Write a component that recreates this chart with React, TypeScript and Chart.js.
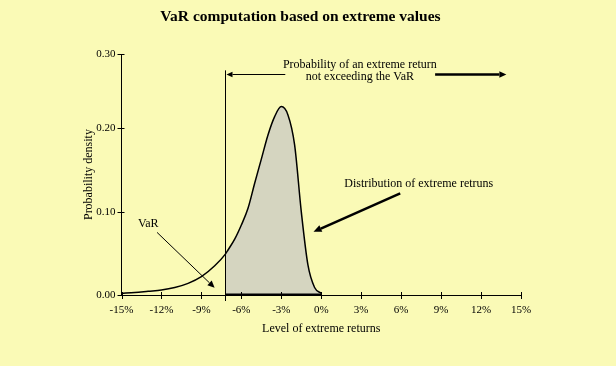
import React, { useEffect, useRef } from "react";
import { Chart, registerables } from "chart.js";
Chart.register(...registerables);

// ---- Data ----
const returnsPct = [-15, -14, -13, -12, -11, -10, -9, -8, -7.2, -7, -6.5, -6, -5.5, -5, -4.5, -4, -3.5, -3, -2.5, -2, -1.5, -1, -0.5, 0];
const density = [0.002, 0.003, 0.0045, 0.006, 0.009, 0.014, 0.022, 0.035, 0.049, 0.054, 0.067, 0.084, 0.104, 0.134, 0.163, 0.192, 0.214, 0.226, 0.216, 0.18, 0.1, 0.036, 0.009, 0.002];
const varLevel = -7.2;
const xTickValues = [-15, -12, -9, -6, -3, 0, 3, 6, 9, 12, 15];
const yTickValues = [0, 0.1, 0.2, 0.289];
const yTickLabels = ["0.00", "0.10", "0.20", "0.30"];

const chartTitle = "VaR computation based on extreme values";
const xTitle = "Level of extreme returns";
const yTitle = "Probability density";
const probLabel = ["Probability of an extreme return", "not exceeding the VaR"];
const varLabel = "VaR";
const distLabel = "Distribution of extreme retruns";

// ---- Annotation placement (data units) ----
const annot = {
  varLineTop: 0.2695,
  probArrowY: 0.2655,
  probLeftEnd: -2.7,
  probRightStart: 8.55,
  probRightEnd: 13.9,
  probTextX: 2.9,
  probTextY: [0.2766, 0.2623],
  varTextX: -12.99,
  varTextY: 0.085,
  varArrow: [-12.33, 0.0751, -8.01, 0.0087],
  distTextX: 7.32,
  distTextY: 0.133,
  distArrow: [5.93, 0.1218, -0.58, 0.0758],
};

const BG = "#FAFAB6";
const FILL = "#D5D5C0";
const FONT = '"Liberation Serif", "Times New Roman", serif';

function drawArrow(ctx: CanvasRenderingContext2D, x1: number, y1: number, x2: number, y2: number, width: number, head: number) {
  const ang = Math.atan2(y2 - y1, x2 - x1);
  const bx = x2 - head * Math.cos(ang);
  const by = y2 - head * Math.sin(ang);
  ctx.lineWidth = width;
  ctx.beginPath();
  ctx.moveTo(x1, y1);
  ctx.lineTo(bx, by);
  ctx.stroke();
  const hw = head * 0.45;
  ctx.beginPath();
  ctx.moveTo(x2, y2);
  ctx.lineTo(bx + hw * Math.sin(ang), by - hw * Math.cos(ang));
  ctx.lineTo(bx - hw * Math.sin(ang), by + hw * Math.cos(ang));
  ctx.closePath();
  ctx.fill();
}

const annotationPlugin = {
  id: "varAnnotations",
  afterDatasetsDraw(chart: any) {
    const { ctx, scales } = chart;
    const xs = scales.x;
    const ys = scales.y;
    const X = (v: number) => xs.getPixelForValue(v);
    const Y = (v: number) => ys.getPixelForValue(v);
    ctx.save();
    ctx.strokeStyle = "#000";
    ctx.fillStyle = "#000";
    ctx.lineWidth = 1;
    // crossing tick marks
    const bottom = Y(0);
    const left = X(-15);
    ctx.beginPath();
    xTickValues.forEach((v) => {
      const px = Math.round(X(v)) + 0.5;
      ctx.moveTo(px, bottom - 3);
      ctx.lineTo(px, bottom + 4);
    });
    yTickValues.forEach((v) => {
      const py = Math.round(Y(v)) + 0.5;
      ctx.moveTo(left - 4, py);
      ctx.lineTo(left + 3, py);
    });
    ctx.stroke();

    // thick base under shaded area
    ctx.lineWidth = 2;
    ctx.beginPath();
    ctx.moveTo(X(varLevel), bottom - 0.5);
    ctx.lineTo(X(0), bottom - 0.5);
    ctx.stroke();

    // VaR vertical line
    ctx.lineWidth = 1;
    const vx = Math.round(X(varLevel)) + 0.5;
    ctx.beginPath();
    ctx.moveTo(vx, Y(annot.varLineTop));
    ctx.lineTo(vx, bottom + 6);
    ctx.stroke();

    // probability arrows
    const py = Math.round(Y(annot.probArrowY)) + 0.5;
    drawArrow(ctx, X(annot.probLeftEnd), py, vx + 1, py, 1, 6);
    drawArrow(ctx, X(annot.probRightStart), py, X(annot.probRightEnd), py, 2.5, 7);

    // VaR arrow
    const va = annot.varArrow;
    drawArrow(ctx, X(va[0]), Y(va[1]), X(va[2]), Y(va[3]), 1, 7);
    // distribution arrow
    const da = annot.distArrow;
    drawArrow(ctx, X(da[0]), Y(da[1]), X(da[2]), Y(da[3]), 2.5, 8);

    // texts
    ctx.font = `12px ${FONT}`;
    ctx.textAlign = "center";
    ctx.textBaseline = "middle";
    ctx.fillText(probLabel[0], X(annot.probTextX), Y(annot.probTextY[0]));
    ctx.fillText(probLabel[1], X(annot.probTextX), Y(annot.probTextY[1]));
    ctx.fillText(varLabel, X(annot.varTextX), Y(annot.varTextY));
    ctx.fillText(distLabel, X(annot.distTextX), Y(annot.distTextY));
    ctx.restore();
  },
};

export default function App() {
  const ref = useRef<HTMLCanvasElement | null>(null);
  useEffect(() => {
    document.body.style.margin = "0";
    document.body.style.background = BG;
    if (!ref.current) return;
    const linePts = returnsPct.map((x, i) => ({ x, y: density[i] }));
    const fillPts = linePts.filter((p) => p.x >= varLevel);
    const chart = new Chart(ref.current, {
      type: "line",
      data: {
        datasets: [
          {
            data: linePts,
            borderColor: "#000",
            borderWidth: 1.5,
            pointRadius: 0,
            fill: false,
            cubicInterpolationMode: "monotone",
          },
          {
            data: fillPts,
            borderWidth: 0,
            borderColor: "rgba(0,0,0,0)",
            backgroundColor: FILL,
            pointRadius: 0,
            fill: "origin",
            cubicInterpolationMode: "monotone",
          },
        ],
      },
      options: {
        animation: false,
        responsive: false,
        devicePixelRatio: 1,
        layout: { padding: { left: 80, right: 95, top: 0, bottom: 29 } },
        plugins: {
          legend: { display: false },
          tooltip: { enabled: false },
          title: {
            display: true,
            text: chartTitle,
            color: "#000",
            font: { family: FONT, size: 15.5, weight: "bold" },
            padding: { top: 8, bottom: 27.5 },
          },
        },
        scales: {
          x: {
            type: "linear",
            min: -15,
            max: 15,
            afterBuildTicks: (s: any) => {
              s.ticks = xTickValues.map((v) => ({ value: v }));
            },
            afterFit: (s: any) => {
              s.height = 42;
            },
            ticks: {
              color: "#000",
              font: { family: FONT, size: 11 },
              padding: 9,
              autoSkip: false,
              maxRotation: 0,
              callback: (v: any) => `${v}%`,
            },
            grid: { display: false, drawTicks: false },
            border: { display: true, color: "#000", width: 1 },
            title: {
              display: true,
              text: xTitle,
              color: "#000",
              font: { family: FONT, size: 12 },
              padding: { top: 0, bottom: 1 },
            },
          },
          y: {
            type: "linear",
            min: 0,
            max: 0.289,
            afterBuildTicks: (s: any) => {
              s.ticks = yTickValues.map((v) => ({ value: v }));
            },
            afterFit: (s: any) => {
              s.width = 41.5;
            },
            ticks: {
              color: "#000",
              font: { family: FONT, size: 11 },
              padding: 6,
              autoSkip: false,
              callback: (_v: any, i: number) => yTickLabels[i],
            },
            grid: { display: false, drawTicks: false },
            border: { display: true, color: "#000", width: 1 },
            title: {
              display: true,
              text: yTitle,
              color: "#000",
              font: { family: FONT, size: 12 },
              padding: { top: 2, bottom: 0 },
            },
          },
        },
      },
      plugins: [annotationPlugin],
    } as any);
    return () => chart.destroy();
  }, []);
  return (
    <div style={{ width: 616, height: 366, background: BG }}>
      <canvas ref={ref} width={616} height={366} style={{ display: "block" }} />
    </div>
  );
}
